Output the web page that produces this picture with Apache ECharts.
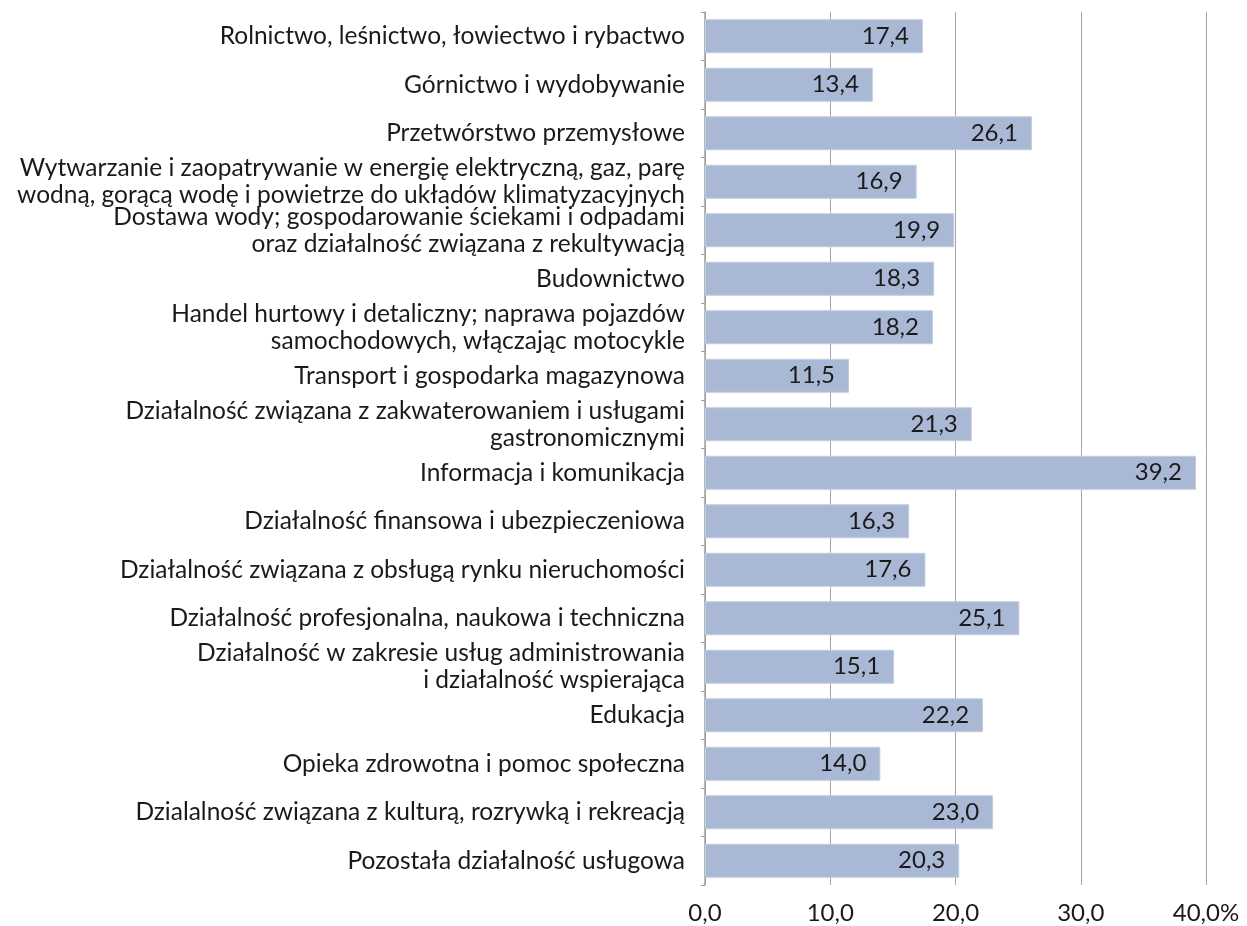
<!DOCTYPE html>
<html>
<head>
<meta charset="utf-8">
<script src="https://cdn.jsdelivr.net/npm/echarts@6/dist/echarts.min.js"></script>
<style>
html,body{margin:0;padding:0;background:#fff;}
#chart{width:1247px;height:926px;}
</style>
</head>
<body>
<div id="chart"></div>
<script>
const categories = [
  "Rolnictwo, leśnictwo, łowiectwo i rybactwo",
  "Górnictwo i wydobywanie",
  "Przetwórstwo przemysłowe",
  "Wytwarzanie i zaopatrywanie w energię elektryczną, gaz, parę\nwodną, gorącą wodę i powietrze do układów klimatyzacyjnych",
  "Dostawa wody; gospodarowanie ściekami i odpadami\noraz działalność związana z rekultywacją",
  "Budownictwo",
  "Handel hurtowy i detaliczny; naprawa pojazdów\nsamochodowych, włączając motocykle",
  "Transport i gospodarka magazynowa",
  "Działalność związana z zakwaterowaniem i usługami\ngastronomicznymi",
  "Informacja i komunikacja",
  "Działalność finansowa i ubezpieczeniowa",
  "Działalność związana z obsługą rynku nieruchomości",
  "Działalność profesjonalna, naukowa i techniczna",
  "Działalność w zakresie usług administrowania\ni działalność wspierająca",
  "Edukacja",
  "Opieka zdrowotna i pomoc społeczna",
  "Dzialalność związana z kulturą, rozrywką i rekreacją",
  "Pozostała działalność usługowa"
];
const values = [17.4, 13.4, 26.1, 16.9, 19.9, 18.3, 18.2, 11.5, 21.3, 39.2, 16.3, 17.6, 25.1, 15.1, 22.2, 14.0, 23.0, 20.3];
const xMin = 0, xMax = 40, xStep = 10;

const fmt = v => v.toFixed(1).replace('.', ',');
const FONT = 'Lato';

const chart = echarts.init(document.getElementById('chart'), null, {renderer: 'canvas'});
chart.setOption({
  animation: false,
  backgroundColor: '#ffffff',
  grid: {left: 705, right: 41, top: 12, bottom: 41, containLabel: false},
  xAxis: {
    type: 'value', min: xMin, max: xMax, interval: xStep,
    axisLine: {show: false}, axisTick: {show: false},
    splitLine: {show: true, lineStyle: {color: '#a6a6a6', width: 1}},
    axisLabel: {
      margin: 16, color: '#1a1a1a', fontFamily: FONT, fontSize: 24,
      formatter: v => fmt(v) + (v === xMax ? '%' : '')
    }
  },
  yAxis: {
    type: 'category', data: categories, inverse: true,
    axisLine: {show: true, lineStyle: {color: '#a0a0a0', width: 1.5}},
    axisTick: {show: true, length: 4, lineStyle: {color: '#a0a0a0'}},
    axisLabel: {
      margin: 20, color: '#1a1a1a', fontFamily: FONT, fontSize: 24.5,
      lineHeight: 27, align: 'right'
    }
  },
  series: [{
    type: 'bar', data: values, barWidth: 34,
    itemStyle: {color: '#a9b8d4', borderColor: '#c3cde0', borderWidth: 1},
    label: {
      show: true, position: 'insideRight', distance: 14,
      color: '#1a1a1a', fontFamily: FONT, fontSize: 24,
      formatter: p => fmt(p.value)
    }
  }]
});
</script>
</body>
</html>
